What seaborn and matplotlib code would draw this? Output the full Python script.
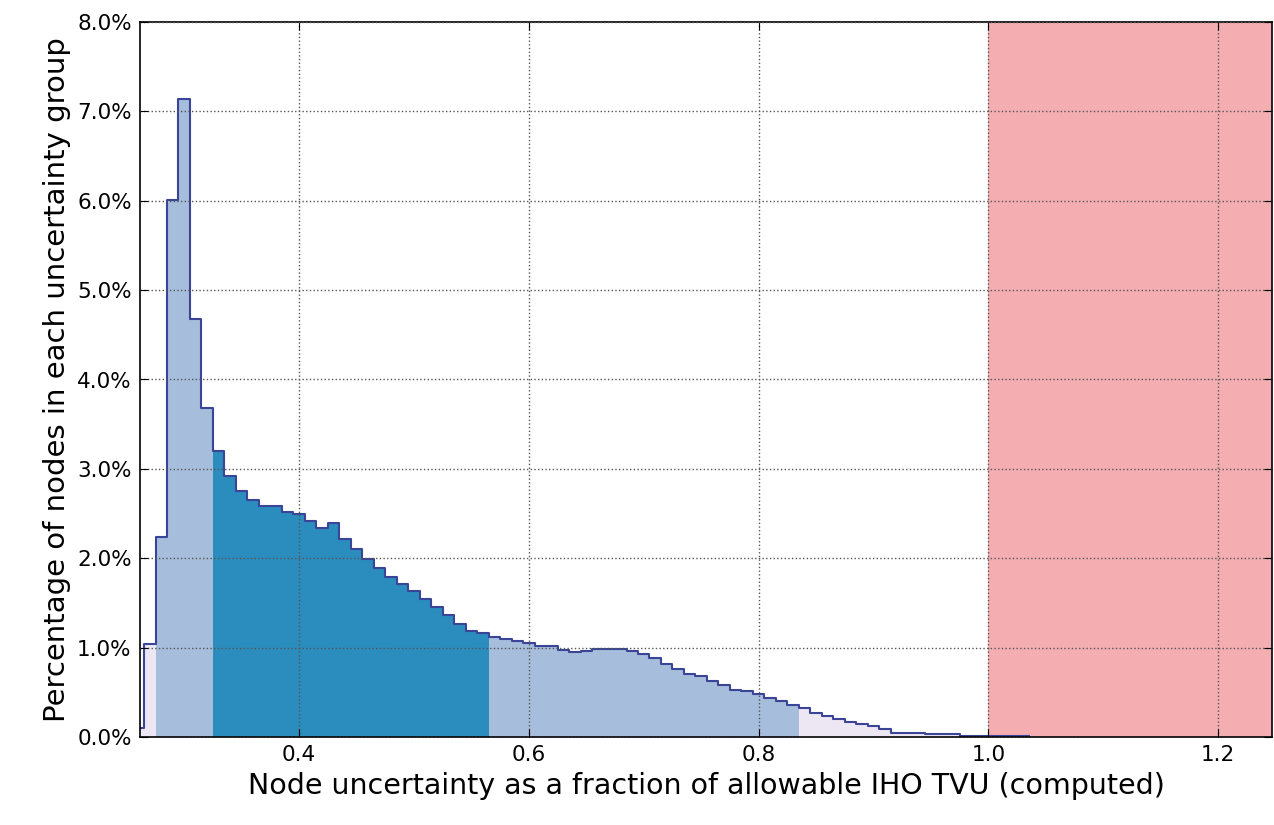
import numpy as np
import pandas as pd
import matplotlib
matplotlib.use("Agg")
import matplotlib.pyplot as plt
import seaborn as sns
from matplotlib.ticker import PercentFormatter

# ---- data ----
bin_start = 0.255
bin_width = 0.01
pct_nodes = [
    0.10, 1.04, 2.24, 6.01, 7.14, 4.68, 3.68,                      # 0.255 - 0.315
    3.20, 2.92, 2.75, 2.65, 2.58, 2.58, 2.52, 2.49, 2.42, 2.34,    # 0.325 - 0.415
    2.39, 2.21, 2.10, 1.99, 1.89, 1.79, 1.71, 1.63, 1.54, 1.45,    # 0.425 - 0.515
    1.36, 1.26, 1.19, 1.16, 1.12, 1.10, 1.07, 1.05, 1.02, 1.02,    # 0.525 - 0.615
    0.97, 0.95, 0.96, 0.98, 0.98, 0.98, 0.96, 0.93, 0.88, 0.82,    # 0.625 - 0.715
    0.76, 0.71, 0.68, 0.63, 0.58, 0.53, 0.51, 0.48, 0.44, 0.40,    # 0.725 - 0.815
    0.36, 0.32, 0.27, 0.23, 0.20, 0.17, 0.14, 0.12, 0.09, 0.05,    # 0.825 - 0.915
    0.05, 0.05, 0.03, 0.03, 0.03, 0.015, 0.015, 0.015, 0.012, 0.01,  # 0.925 - 1.015
    0.01,                                                          # 1.025
]
region_bounds = [0.255, 0.275, 0.325, 0.565, 0.835, 1.035]
region_names = ["tail_low", "q_low", "core", "q_high", "tail_high"]
region_colors = ["#ece7f2", "#a6bddb", "#2b8cbe", "#a6bddb", "#ece7f2"]
threshold = 1.0
x_limits = (0.2615, 1.247)
y_limits = (0.0, 8.0)
x_ticks = [0.4, 0.6, 0.8, 1.0, 1.2]
y_ticks = [0, 1, 2, 3, 4, 5, 6, 7, 8]
x_label = "Node uncertainty as a fraction of allowable IHO TVU (computed)"
y_label = "Percentage of nodes in each uncertainty group"

n_bins = len(pct_nodes)
edges = [round(bin_start + bin_width * i, 4) for i in range(n_bins + 1)]
centers = [e + bin_width / 2 for e in edges[:-1]]
region = pd.cut(centers, bins=region_bounds, labels=region_names).astype(str)
df = pd.DataFrame({"x": centers, "pct": pct_nodes, "region": region})

# ---- style ----
plt.rcParams.update({
    "font.family": ["DejaVu Sans"],
    "xtick.direction": "in", "ytick.direction": "in",
    "xtick.top": True, "ytick.right": True,
    "xtick.major.size": 6, "ytick.major.size": 6,
    "axes.linewidth": 1.2,
})

fig = plt.figure(figsize=(12.74, 8.25), dpi=100, facecolor="white")
ax = fig.add_axes([0.1099, 0.1067, 0.8886, 0.8666])

# red zone beyond allowable TVU
ax.axvspan(threshold, x_limits[1] + 1, color="#f4adb1", lw=0, zorder=0)

sns.histplot(data=df, x="x", weights="pct", hue="region", hue_order=region_names,
             palette=dict(zip(region_names, region_colors)), bins=edges,
             element="step", fill=True, alpha=1, linewidth=0, legend=False, ax=ax)
sns.histplot(data=df, x="x", weights="pct", bins=edges, element="step", fill=False,
             color="#3a4598", linewidth=1.5, ax=ax)

ax.set_xlim(*x_limits)
ax.set_ylim(*y_limits)
ax.set_xticks(x_ticks)
ax.set_yticks(y_ticks)
ax.yaxis.set_major_formatter(PercentFormatter(xmax=100, decimals=1))
ax.set_axisbelow(False)
ax.grid(True, color="#555555", linestyle=":", linewidth=1.0)
ax.tick_params(labelsize=15.5, pad=6)
ax.set_xlabel(x_label, fontsize=20.5, labelpad=5)
ax.set_ylabel(y_label, fontsize=21, labelpad=4)

fig.savefig("out.png", dpi=100, facecolor="white")
